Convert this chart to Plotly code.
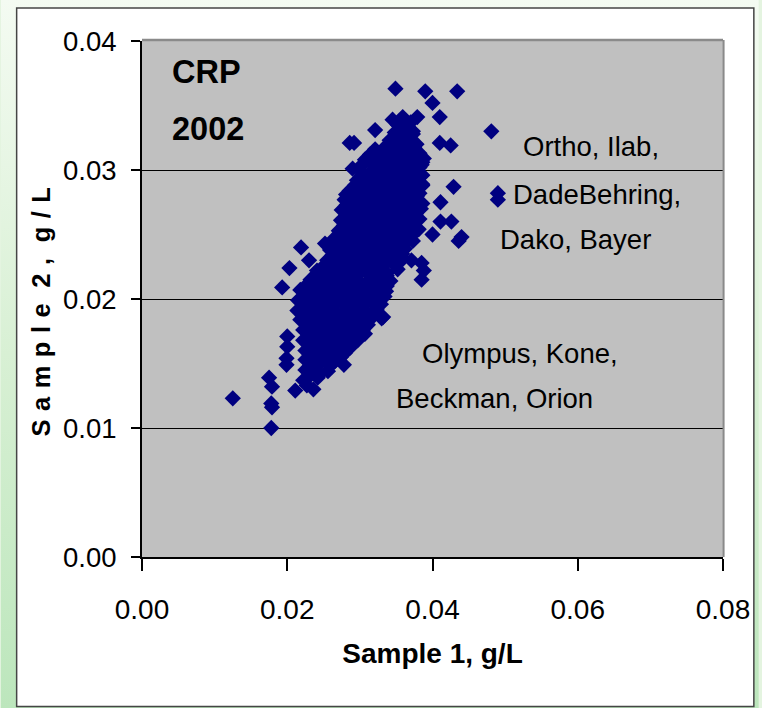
import base64
import plotly.graph_objects as go

# ---------------- data (g/L) ----------------
# main cloud, read row by row (top to bottom), then in-between rows, then isolated points
sample1 = [
    0.0345, 0.0359, 0.0370,
    0.0321, 0.0348, 0.0362, 0.0373,
    0.0341, 0.0355, 0.0368,
    0.0321, 0.0334, 0.0348, 0.0362, 0.0375, 0.0379,
    0.0307, 0.0321, 0.0334, 0.0348, 0.0362, 0.0375, 0.0386,
    0.0300, 0.0314, 0.0327, 0.0341, 0.0355, 0.0368, 0.0382, 0.0386,
    0.0296, 0.0310, 0.0323, 0.0337, 0.0351, 0.0364, 0.0378, 0.0386,
    0.0286, 0.0300, 0.0314, 0.0327, 0.0341, 0.0355, 0.0368, 0.0382,
    0.0279, 0.0293, 0.0307, 0.0321, 0.0334, 0.0348, 0.0362, 0.0375, 0.0386,
    0.0275, 0.0289, 0.0303, 0.0316, 0.0330, 0.0344, 0.0358, 0.0371, 0.0384,
    0.0274, 0.0288, 0.0301, 0.0315, 0.0329, 0.0342, 0.0356, 0.0370, 0.0382,
    0.0271, 0.0285, 0.0299, 0.0312, 0.0326, 0.0340, 0.0353, 0.0367, 0.0381,
    0.0263, 0.0277, 0.0290, 0.0304, 0.0318, 0.0332, 0.0345, 0.0359, 0.0373,
    0.0259, 0.0273, 0.0286, 0.0300, 0.0314, 0.0327, 0.0341, 0.0355, 0.0362,
    0.0255, 0.0268, 0.0282, 0.0296, 0.0310, 0.0323, 0.0337, 0.0351, 0.0359,
    0.0241, 0.0255, 0.0268, 0.0282, 0.0296, 0.0310, 0.0323, 0.0337, 0.0352,
    0.0232, 0.0245, 0.0259, 0.0273, 0.0286, 0.0300, 0.0314, 0.0327, 0.0342,
    0.0218, 0.0232, 0.0245, 0.0259, 0.0273, 0.0286, 0.0300, 0.0314, 0.0327, 0.0336,
    0.0215, 0.0229, 0.0242, 0.0256, 0.0270, 0.0284, 0.0297, 0.0311, 0.0325, 0.0329,
    0.0214, 0.0227, 0.0241, 0.0255, 0.0268, 0.0282, 0.0296, 0.0310, 0.0323,
    0.0218, 0.0232, 0.0245, 0.0259, 0.0273, 0.0286, 0.0300, 0.0314,
    0.0222, 0.0236, 0.0249, 0.0263, 0.0277, 0.0290, 0.0304, 0.0307,
    0.0222, 0.0236, 0.0249, 0.0263, 0.0277, 0.0290, 0.0297,
    0.0225, 0.0238, 0.0252, 0.0266, 0.0279, 0.0286,
    0.0225, 0.0238, 0.0252, 0.0266, 0.0274,
    0.0225, 0.0238, 0.0256,
    0.0222, 0.0242,
    0.0211, 0.0236,
    # in-between rows
    0.0352, 0.0366,
    0.0349, 0.0363, 0.0373,
    0.0337, 0.0351, 0.0364, 0.0378,
    0.0314, 0.0327, 0.0341, 0.0355, 0.0368, 0.0382,
    0.0303, 0.0316, 0.0330, 0.0344, 0.0358, 0.0371, 0.0385,
    0.0303, 0.0316, 0.0330, 0.0344, 0.0358, 0.0371, 0.0385,
    0.0293, 0.0307, 0.0321, 0.0334, 0.0348, 0.0362, 0.0375, 0.0386,
    0.0284, 0.0297, 0.0311, 0.0325, 0.0338, 0.0352, 0.0366, 0.0379,
    0.0282, 0.0296, 0.0310, 0.0323, 0.0337, 0.0351, 0.0364, 0.0378,
    0.0281, 0.0295, 0.0308, 0.0322, 0.0336, 0.0349, 0.0363, 0.0377,
    0.0278, 0.0292, 0.0305, 0.0319, 0.0333, 0.0347, 0.0360, 0.0374,
    0.0275, 0.0289, 0.0303, 0.0316, 0.0330, 0.0344, 0.0358, 0.0371,
    0.0266, 0.0279, 0.0293, 0.0307, 0.0321, 0.0334, 0.0348, 0.0362,
    0.0262, 0.0275, 0.0289, 0.0303, 0.0316, 0.0330, 0.0344, 0.0358,
    0.0251, 0.0264, 0.0278, 0.0292, 0.0305, 0.0319, 0.0333, 0.0347,
    0.0241, 0.0255, 0.0268, 0.0282, 0.0296, 0.0310, 0.0323, 0.0337,
    0.0227, 0.0241, 0.0255, 0.0268, 0.0282, 0.0296, 0.0310, 0.0323, 0.0337,
    0.0225, 0.0238, 0.0252, 0.0266, 0.0279, 0.0293, 0.0307, 0.0321, 0.0334,
    0.0223, 0.0237, 0.0251, 0.0264, 0.0278, 0.0292, 0.0305, 0.0319,
    0.0223, 0.0237, 0.0251, 0.0264, 0.0278, 0.0292, 0.0305, 0.0319,
    0.0229, 0.0242, 0.0256, 0.0270, 0.0284, 0.0297, 0.0311,
    0.0229, 0.0242, 0.0256, 0.0270, 0.0284, 0.0297,
    0.0232, 0.0245, 0.0259, 0.0273, 0.0286,
    0.0232, 0.0245, 0.0259, 0.0273,
    0.0232, 0.0245, 0.0259,
    0.0232, 0.0245,
    0.0227,
    # isolated points
    0.0125, 0.0175, 0.0179, 0.0178, 0.0179, 0.0178,
    0.0200, 0.0200, 0.0199, 0.0199, 0.0278, 0.0330,
    0.0349, 0.0390, 0.0434, 0.0400, 0.0410, 0.0379,
    0.0286, 0.0292, 0.0481, 0.0410, 0.0425, 0.0388,
    0.0290, 0.0429, 0.0490, 0.0490, 0.0411, 0.0411,
    0.0426, 0.0400, 0.0440, 0.0436, 0.0281, 0.0353,
    0.0371, 0.0385, 0.0385, 0.0388, 0.0219, 0.0252,
    0.0203, 0.0230, 0.0193, 0.0332,
]
sample2 = [
    0.0339, 0.0341, 0.0337,
    0.0331, 0.0329, 0.0333, 0.0330,
    0.0323, 0.0325, 0.0321,
    0.0316, 0.0314, 0.0318, 0.0315, 0.0317, 0.0313,
    0.0308, 0.0310, 0.0306, 0.0309, 0.0307, 0.0310, 0.0306,
    0.0300, 0.0298, 0.0302, 0.0299, 0.0301, 0.0298, 0.0302, 0.0296,
    0.0292, 0.0294, 0.0290, 0.0293, 0.0291, 0.0294, 0.0290, 0.0288,
    0.0284, 0.0286, 0.0283, 0.0285, 0.0282, 0.0286, 0.0284, 0.0282,
    0.0277, 0.0275, 0.0278, 0.0276, 0.0279, 0.0275, 0.0277, 0.0279, 0.0274,
    0.0269, 0.0271, 0.0268, 0.0270, 0.0267, 0.0271, 0.0269, 0.0267, 0.0270,
    0.0261, 0.0263, 0.0260, 0.0262, 0.0259, 0.0263, 0.0261, 0.0259, 0.0262,
    0.0253, 0.0255, 0.0252, 0.0254, 0.0251, 0.0255, 0.0253, 0.0251, 0.0254,
    0.0246, 0.0244, 0.0247, 0.0245, 0.0248, 0.0244, 0.0246, 0.0248, 0.0245,
    0.0238, 0.0240, 0.0237, 0.0239, 0.0236, 0.0240, 0.0238, 0.0236, 0.0239,
    0.0230, 0.0232, 0.0229, 0.0231, 0.0228, 0.0232, 0.0230, 0.0228, 0.0231,
    0.0222, 0.0224, 0.0221, 0.0223, 0.0220, 0.0224, 0.0222, 0.0220, 0.0223,
    0.0215, 0.0213, 0.0216, 0.0214, 0.0217, 0.0213, 0.0215, 0.0217, 0.0214,
    0.0207, 0.0209, 0.0206, 0.0208, 0.0205, 0.0209, 0.0207, 0.0205, 0.0208, 0.0206,
    0.0199, 0.0197, 0.0200, 0.0198, 0.0201, 0.0197, 0.0199, 0.0201, 0.0198, 0.0196,
    0.0191, 0.0193, 0.0190, 0.0192, 0.0189, 0.0193, 0.0191, 0.0189, 0.0192,
    0.0184, 0.0182, 0.0185, 0.0183, 0.0186, 0.0182, 0.0184, 0.0186,
    0.0176, 0.0178, 0.0175, 0.0177, 0.0174, 0.0178, 0.0176, 0.0173,
    0.0168, 0.0166, 0.0169, 0.0167, 0.0170, 0.0166, 0.0168,
    0.0160, 0.0162, 0.0159, 0.0161, 0.0158, 0.0162,
    0.0153, 0.0151, 0.0154, 0.0152, 0.0155,
    0.0145, 0.0147, 0.0144,
    0.0137, 0.0139,
    0.0129, 0.0130,
    # in-between rows
    0.0335, 0.0334,
    0.0327, 0.0326, 0.0328,
    0.0319, 0.0320, 0.0318, 0.0320,
    0.0312, 0.0311, 0.0313, 0.0312, 0.0311, 0.0313,
    0.0304, 0.0305, 0.0303, 0.0304, 0.0305, 0.0303, 0.0304,
    0.0296, 0.0297, 0.0295, 0.0296, 0.0297, 0.0295, 0.0296,
    0.0288, 0.0289, 0.0287, 0.0288, 0.0289, 0.0287, 0.0288, 0.0289,
    0.0281, 0.0280, 0.0282, 0.0281, 0.0280, 0.0282, 0.0281, 0.0280,
    0.0273, 0.0274, 0.0272, 0.0273, 0.0274, 0.0272, 0.0273, 0.0274,
    0.0265, 0.0266, 0.0264, 0.0265, 0.0266, 0.0264, 0.0265, 0.0266,
    0.0257, 0.0258, 0.0256, 0.0257, 0.0258, 0.0256, 0.0257, 0.0258,
    0.0250, 0.0249, 0.0251, 0.0250, 0.0249, 0.0251, 0.0250, 0.0249,
    0.0242, 0.0243, 0.0241, 0.0242, 0.0243, 0.0241, 0.0242, 0.0243,
    0.0234, 0.0235, 0.0233, 0.0234, 0.0235, 0.0233, 0.0234, 0.0235,
    0.0226, 0.0227, 0.0225, 0.0226, 0.0227, 0.0225, 0.0226, 0.0227,
    0.0219, 0.0218, 0.0220, 0.0219, 0.0218, 0.0220, 0.0219, 0.0218,
    0.0211, 0.0212, 0.0210, 0.0211, 0.0212, 0.0210, 0.0211, 0.0212, 0.0210,
    0.0203, 0.0204, 0.0202, 0.0203, 0.0204, 0.0202, 0.0203, 0.0204, 0.0202,
    0.0195, 0.0196, 0.0194, 0.0195, 0.0196, 0.0194, 0.0195, 0.0196,
    0.0188, 0.0187, 0.0189, 0.0188, 0.0187, 0.0189, 0.0188, 0.0187,
    0.0180, 0.0181, 0.0179, 0.0180, 0.0181, 0.0179, 0.0180,
    0.0172, 0.0173, 0.0171, 0.0172, 0.0173, 0.0171,
    0.0164, 0.0165, 0.0163, 0.0164, 0.0165,
    0.0157, 0.0156, 0.0158, 0.0157,
    0.0149, 0.0150, 0.0148,
    0.0141, 0.0142,
    0.0133,
    # isolated points
    0.0123, 0.0139, 0.0132, 0.0119, 0.0116, 0.0100,
    0.0171, 0.0163, 0.0154, 0.0149, 0.0149, 0.0185,
    0.0363, 0.0361, 0.0361, 0.0352, 0.0341, 0.0341,
    0.0321, 0.0321, 0.0330, 0.0321, 0.0319, 0.0309,
    0.0301, 0.0287, 0.0282, 0.0277, 0.0275, 0.0260,
    0.0260, 0.0250, 0.0248, 0.0245, 0.0281, 0.0336,
    0.0230, 0.0228, 0.0215, 0.0222, 0.0240, 0.0243,
    0.0224, 0.0230, 0.0209, 0.0186,
]

x_ticks = [0.00, 0.02, 0.04, 0.06, 0.08]
y_ticks = [0.00, 0.01, 0.02, 0.03, 0.04]
x_ticktext = ["0.00", "0.02", "0.04", "0.06", "0.08"]
y_ticktext = ["0.00", "0.01", "0.02", "0.03", "0.04"]

# ---------------- layout geometry ----------------
W, H = 762, 708
L, R, T, B = 142, 36, 41, 151
PW, PH = W - L - R, H - T - B


def px_x(p):
    return (p - L) / PW


def px_y(p):
    return (H - B - p) / PH


FONT = "Liberation Sans, Arial, sans-serif"

grad_svg = (
    "<svg xmlns='http://www.w3.org/2000/svg' width='762' height='708'>"
    "<defs><linearGradient id='g' x1='0' y1='0' x2='0' y2='1'>"
    "<stop offset='0' stop-color='#f4fbf2'/>"
    "<stop offset='0.5' stop-color='#d8f0d4'/>"
    "<stop offset='1' stop-color='#bce6bc'/>"
    "</linearGradient></defs>"
    "<rect width='762' height='708' fill='url(#g)'/></svg>"
)
grad_uri = "data:image/svg+xml;base64," + base64.b64encode(grad_svg.encode()).decode()

fig = go.Figure()
fig.add_trace(go.Scatter(
    x=sample1, y=sample2, mode="markers",
    marker=dict(symbol="diamond", size=12.5, color="#000080",
                line=dict(width=0)),
    showlegend=False, hoverinfo="x+y",
))

shapes = [
    # white panel
    dict(type="rect", xref="paper", yref="paper",
         x0=px_x(16), x1=px_x(757), y0=px_y(706.5), y1=px_y(8),
         fillcolor="white", line=dict(color="#454545", width=1.5), layer="below"),
    # grey plot area
    dict(type="rect", xref="paper", yref="paper", x0=0, x1=1, y0=0, y1=1,
         fillcolor="#c0c0c0", line=dict(width=0), layer="below"),
    # top and right grey border
    dict(type="line", xref="paper", yref="paper", x0=0, x1=1, y0=1.002, y1=1.002,
         line=dict(color="#8a8a8a", width=2.5), layer="above"),
    dict(type="line", xref="paper", yref="paper", x0=1.001, x1=1.001, y0=0, y1=1.002,
         line=dict(color="#8a8a8a", width=2), layer="above"),
]

TXT = dict(family=FONT, size=27.5, color="black")
annotations = [
    dict(x=0.0038, y=0.0376, xref="x", yref="y", text="<b>CRP</b>", showarrow=False,
         xanchor="left", yanchor="middle", font=dict(family=FONT, size=32.5, color="black")),
    dict(x=0.0038, y=0.0332, xref="x", yref="y", text="<b>2002</b>", showarrow=False,
         xanchor="left", yanchor="middle", font=dict(family=FONT, size=32.5, color="black")),
    dict(x=0.0618, y=0.0318, xref="x", yref="y", text="Ortho, Ilab,", showarrow=False, font=TXT),
    dict(x=0.0627, y=0.0281, xref="x", yref="y", text="DadeBehring,", showarrow=False, font=TXT),
    dict(x=0.0597, y=0.0246, xref="x", yref="y", text="Dako, Bayer", showarrow=False, font=TXT),
    dict(x=0.0521, y=0.0158, xref="x", yref="y", text="Olympus, Kone,", showarrow=False, font=TXT),
    dict(x=0.0486, y=0.0123, xref="x", yref="y", text="Beckman, Orion", showarrow=False, font=TXT),
    # y-axis title
    dict(x=px_x(40), y=px_y(312), xref="paper", yref="paper",
         text="<b>S\u2004a\u2004m\u2004p\u2004l\u2004e\u2004 2\u2004,\u2004 g\u2004/\u2004L</b>",
         textangle=-90, showarrow=False, xanchor="center", yanchor="middle",
         font=dict(family=FONT, size=25.5, color="black")),
]

fig.update_layout(
    width=W, height=H,
    margin=dict(l=L, r=R, t=T, b=B, pad=0),
    paper_bgcolor="#e4f4e0",
    plot_bgcolor="rgba(0,0,0,0)",
    shapes=shapes,
    annotations=annotations,
    images=[dict(source=grad_uri, xref="paper", yref="paper",
                 x=-L / PW, y=(H - B) / PH, sizex=W / PW, sizey=H / PH,
                 xanchor="left", yanchor="top", sizing="stretch", layer="below")],
    xaxis=dict(
        range=[0, 0.08], tickvals=x_ticks, ticktext=x_ticktext,
        showgrid=False, zeroline=False,
        showline=True, linecolor="black", linewidth=2,
        ticks="outside", ticklen=12, tickwidth=1.5, tickcolor="black",
        ticklabelstandoff=14,
        tickfont=dict(family=FONT, size=28, color="black"),
        title=dict(text="<b>Sample 1, g/L</b>", standoff=20,
                   font=dict(family=FONT, size=28, color="black")),
    ),
    yaxis=dict(
        range=[0, 0.04], tickvals=y_ticks, ticktext=y_ticktext,
        showgrid=True, gridcolor="black", gridwidth=1, zeroline=False,
        showline=True, linecolor="black", linewidth=2,
        ticks="outside", ticklen=9, tickwidth=1.5, tickcolor="black",
        ticklabelstandoff=9,
        tickfont=dict(family=FONT, size=27.5, color="black"),
    ),
    showlegend=False,
)

fig.write_html("out.html")
